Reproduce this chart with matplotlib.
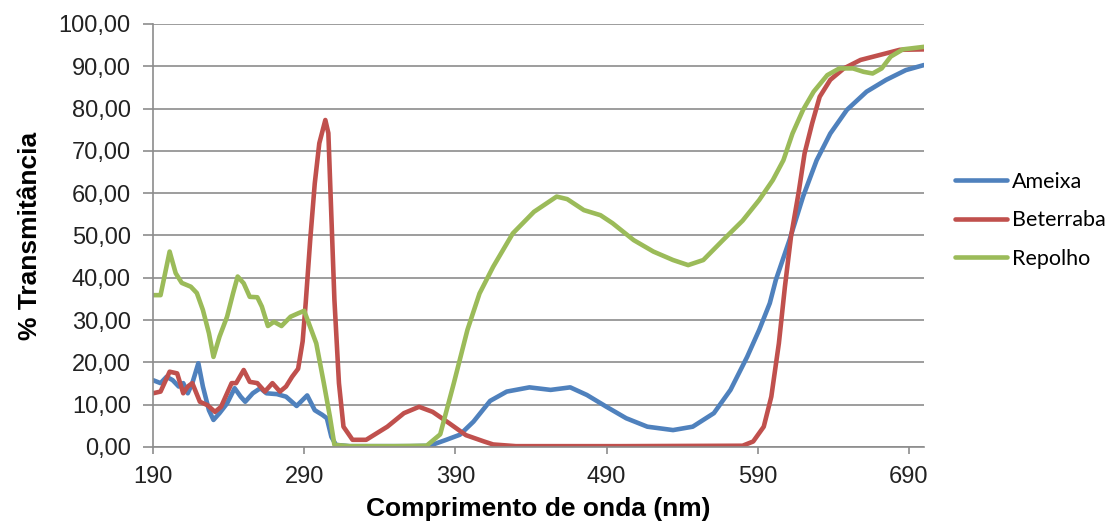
import matplotlib
matplotlib.use("Agg")
import matplotlib.pyplot as plt
from matplotlib.ticker import FuncFormatter, FixedLocator

# Transmittance spectra (%) of the three extracts
wl_ameixa = [190, 195, 199, 203, 207, 210, 213, 216, 220, 223, 227, 230, 234, 239,
             244, 248, 251, 256, 261, 265, 272, 278, 285, 292, 297, 302, 305, 308,
             311, 320, 340, 360, 373, 384, 393, 402, 413, 424, 439, 453, 466, 477,
             490, 503, 517, 534, 547, 561, 572, 583, 591, 598, 602, 611, 620, 629,
             638, 649, 662, 675, 688, 700]
t_ameixa = [15.8, 15.1, 16.6, 15.8, 14.3, 15.1, 12.7, 15.1, 19.8, 14.3, 8.7, 6.4, 8.0, 10.3,
            13.9, 11.9, 10.7, 12.7, 13.9, 12.7, 12.5, 11.9, 9.7, 12.2, 8.7, 7.6, 6.8, 2.4,
            0.5, 0.2, 0.2, 0.2, 0.3, 1.7, 2.9, 6.0, 10.9, 13.1, 14.1, 13.5, 14.1, 12.3,
            9.5, 6.8, 4.8, 4.0, 4.8, 8.0, 13.5, 21.3, 27.7, 34.0, 39.5, 48.9, 59.2, 67.8,
            74.1, 79.7, 84.0, 86.8, 89.1, 90.3]

wl_beterraba = [190, 195, 201, 206, 210, 213, 216, 221, 226, 231, 235, 242, 245, 250,
                254, 259, 264, 269, 274, 278, 282, 286, 289, 291, 294, 297, 300, 304,
                306, 308, 310, 313, 316, 322, 331, 345, 356, 366, 375, 386, 397, 409,
                415, 430, 500, 580, 587, 594, 599, 604, 608, 612, 617, 621, 626, 631,
                638, 647, 658, 671, 684, 700]
t_beterraba = [12.7, 13.1, 17.8, 17.4, 12.7, 14.3, 15.1, 10.7, 9.9, 8.3, 9.5, 15.1, 15.1, 18.2,
               15.4, 15.1, 13.1, 15.1, 13.1, 14.3, 16.6, 18.5, 25.0, 34.0, 49.0, 62.3, 71.8, 77.3,
               74.2, 54.4, 34.8, 15.1, 4.8, 1.7, 1.7, 4.8, 8.0, 9.5, 8.3, 5.6, 2.8, 1.3,
               0.6, 0.2, 0.2, 0.3, 1.3, 4.8, 11.9, 24.5, 37.9, 49.7, 60.0, 69.4, 76.5, 82.8,
               86.8, 89.5, 91.5, 92.7, 93.9, 94.0]

wl_repolho = [190, 195, 201, 205, 209, 215, 219, 223, 227, 230, 234, 239, 243, 246,
              250, 254, 259, 262, 266, 270, 275, 281, 286, 290, 298, 303, 307, 310,
              320, 350, 371, 380, 389, 398, 406, 415, 428, 442, 457, 464, 475, 486,
              494, 508, 521, 534, 544, 554, 567, 580, 591, 600, 607, 613, 620, 627,
              636, 644, 653, 660, 666, 672, 678, 686, 700]
t_repolho = [35.9, 35.9, 46.2, 41.1, 38.8, 37.9, 36.4, 32.4, 26.9, 21.3, 26.1, 30.8, 36.4, 40.3,
             38.7, 35.5, 35.4, 33.2, 28.6, 29.6, 28.6, 30.8, 31.6, 32.2, 24.5, 15.1, 7.2, 0.5,
             0.2, 0.2, 0.3, 3.0, 15.1, 27.7, 36.3, 42.6, 50.5, 55.6, 59.2, 58.6, 56.0, 54.8,
             52.9, 48.9, 46.2, 44.2, 43.0, 44.2, 48.9, 53.5, 58.4, 63.1, 67.8, 74.1, 79.7, 84.0,
             87.9, 89.5, 89.5, 88.7, 88.3, 89.5, 92.3, 94.0, 94.6]

series_names = ["Ameixa", "Beterraba", "Repolho"]
x_ticks = [190, 290, 390, 490, 590, 690]
y_ticks = [0, 10, 20, 30, 40, 50, 60, 70, 80, 90, 100]

colors = ["#4F81BD", "#C0504D", "#9BBB59"]
grid_gray = "#8C8C8C"

W, H = 1112, 527
fig = plt.figure(figsize=(W / 100, H / 100), dpi=100)
ax = fig.add_axes([153 / W, 1 - 447 / H, (924 - 153) / W, (447 - 24) / H])

data = [(wl_ameixa, t_ameixa), (wl_beterraba, t_beterraba), (wl_repolho, t_repolho)]
for (wl, t), name, c in zip(data, series_names, colors):
    ax.plot(wl, t, color=c, lw=3.3, label=name,
            solid_joinstyle="round", solid_capstyle="round")

ax.set_xlim(190, 700)
ax.set_ylim(0, 100)
ax.xaxis.set_major_locator(FixedLocator(x_ticks))
ax.yaxis.set_major_locator(FixedLocator(y_ticks))
ax.yaxis.set_major_formatter(FuncFormatter(lambda v, p: f"{v:.2f}".replace(".", ",")))

ax.grid(axis="y", color=grid_gray, lw=1.2)
ax.set_axisbelow(True)
for s in ("top", "right"):
    ax.spines[s].set_visible(False)
for s in ("left", "bottom"):
    ax.spines[s].set_color(grid_gray)
    ax.spines[s].set_linewidth(1.2)

ax.tick_params(axis="y", length=7, width=1.2, color=grid_gray, pad=9, labelcolor="#222222")
ax.tick_params(axis="x", length=5, width=1.2, color=grid_gray, pad=9, labelcolor="#222222")
for lab in ax.get_xticklabels() + ax.get_yticklabels():
    lab.set_fontfamily("Liberation Sans")
    lab.set_fontsize(17)

ax.set_xlabel("Comprimento de onda (nm)", fontfamily="Liberation Sans",
              fontsize=19, fontweight="bold", labelpad=6)
ax.set_ylabel("% Transmitância", fontfamily="Liberation Sans",
              fontsize=19, fontweight="bold", labelpad=12)

leg = ax.legend(loc="upper left", bbox_to_anchor=(955 / W, 1 - 172 / H),
                bbox_transform=fig.transFigure, frameon=False,
                prop=dict(family="Lato", size=15.5), handlelength=2.4,
                handletextpad=0.25, labelspacing=0.85, borderpad=0, borderaxespad=0)

fig.savefig("out.png", dpi=100, facecolor="white")
